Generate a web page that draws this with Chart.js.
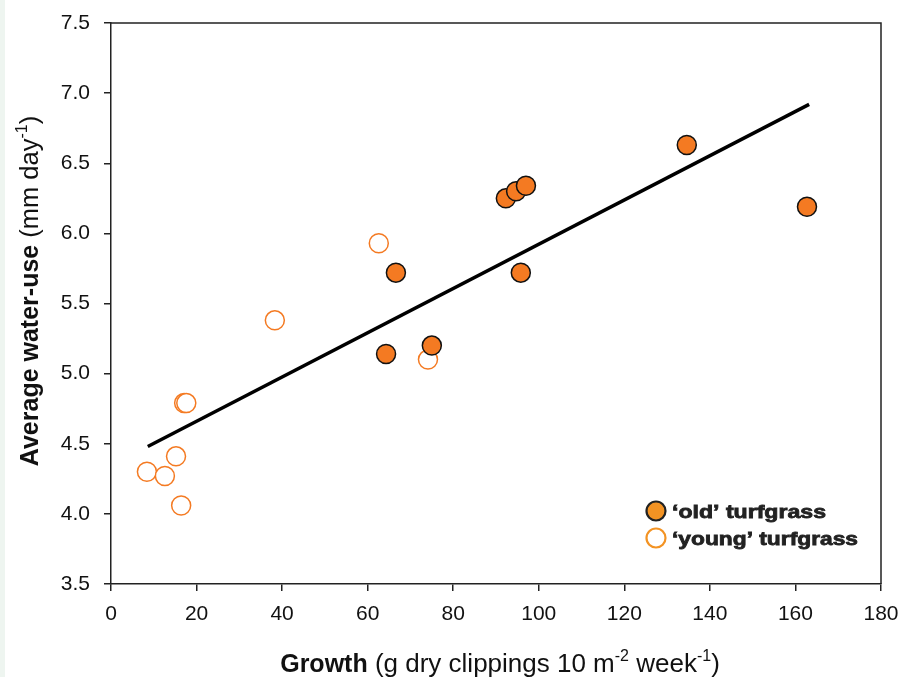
<!DOCTYPE html>
<html>
<head>
<meta charset="utf-8">
<script src="https://cdn.jsdelivr.net/npm/chart.js@4"></script>
<style>
  html, body { margin: 0; padding: 0; background: #fff; }
  #wrap { position: relative; width: 909px; height: 677px; }
  #strip { position: absolute; left: 0; top: 0; width: 5px; height: 677px; background: #eef5f0; }
</style>
</head>
<body>
<div id="wrap">
  <div id="strip"></div>
  <canvas id="waterChart" width="909" height="677"></canvas>
</div>
<script>
// Growth vs average water-use

// 'old' turfgrass plots
const oldGrowth = [64.3, 66.6, 75.0, 92.3, 94.7, 97.0, 95.8, 134.6, 162.7];
const oldWater  = [5.14, 5.72, 5.20, 6.25, 6.30, 6.34, 5.72, 6.63, 6.19];

// 'young' turfgrass plots
const youngGrowth = [8.4, 12.6, 15.2, 16.4, 17.1, 17.6, 38.3, 62.6, 74.1];
const youngWater  = [4.30, 4.27, 4.41, 4.06, 4.79, 4.79, 5.38, 5.93, 5.10];

// fitted regression line end points
const fitGrowth = [8.6, 163.2];
const fitWater  = [4.48, 6.92];

// axis ticks
const xTicks = [0, 20, 40, 60, 80, 100, 120, 140, 160, 180];
const yTicks = [3.5, 4.0, 4.5, 5.0, 5.5, 6.0, 6.5, 7.0, 7.5];

const orange = '#f47a22';
const axisColor = '#222';
const fontFamily = '"Liberation Sans", Arial, sans-serif';

const toPoints = (xs, ys) => xs.map((x, i) => ({ x: x, y: ys[i] }));

// draws the plot frame, axis titles and legend
const extras = {
  id: 'extras',
  afterDraw(chart) {
    const ctx = chart.ctx;
    const a = chart.chartArea;
    ctx.save();

    // top and right frame lines
    ctx.strokeStyle = axisColor;
    ctx.lineWidth = 1.5;
    ctx.beginPath();
    ctx.moveTo(a.left, a.top);
    ctx.lineTo(a.right, a.top);
    ctx.lineTo(a.right, a.bottom);
    ctx.stroke();

    // x axis title: bold word + normal text with superscripts
    ctx.fillStyle = '#111';
    const xParts = [
      { t: 'Growth', f: 'bold 25px ' + fontFamily, dy: 0 },
      { t: ' (g dry clippings 10 m', f: '26px ' + fontFamily, dy: 0 },
      { t: '-2', f: '16px ' + fontFamily, dy: -11 },
      { t: ' week', f: '26px ' + fontFamily, dy: 0 },
      { t: '-1', f: '16px ' + fontFamily, dy: -11 },
      { t: ')', f: '26px ' + fontFamily, dy: 0 }
    ];
    drawParts(ctx, xParts, 500, 672);

    // y axis title, rotated
    ctx.save();
    ctx.translate(38, 291);
    ctx.rotate(-Math.PI / 2);
    const yParts = [
      { t: 'Average water-use', f: 'bold 25px ' + fontFamily, dy: 0 },
      { t: ' (mm day', f: '25.5px ' + fontFamily, dy: 0 },
      { t: '-1', f: '16px ' + fontFamily, dy: -11 },
      { t: ')', f: '25.5px ' + fontFamily, dy: 0 }
    ];
    drawParts(ctx, yParts, 0, 0);
    ctx.restore();

    // legend (heavy, wide lettering)
    const legendItems = [
      { label: '\u2018old\u2019 turfgrass', fill: '#f39323', stroke: '#222', y: 511, w: 154 },
      { label: '\u2018young\u2019 turfgrass', fill: '#fff', stroke: '#f39323', y: 538, w: 186 }
    ];
    legendItems.forEach(item => {
      ctx.beginPath();
      ctx.arc(656, item.y, 9.5, 0, Math.PI * 2);
      ctx.fillStyle = item.fill;
      ctx.fill();
      ctx.lineWidth = 2.2;
      ctx.strokeStyle = item.stroke;
      ctx.stroke();

      ctx.font = 'bold 19px ' + fontFamily;
      const natural = ctx.measureText(item.label).width;
      ctx.save();
      ctx.translate(672, item.y + 7);
      ctx.scale(item.w / natural, 1);
      ctx.fillStyle = '#222';
      ctx.strokeStyle = '#222';
      ctx.lineWidth = 0.8;
      ctx.textAlign = 'left';
      ctx.textBaseline = 'alphabetic';
      ctx.fillText(item.label, 0, 0);
      ctx.strokeText(item.label, 0, 0);
      ctx.restore();
    });

    ctx.restore();
  }
};

function drawParts(ctx, parts, cx, baseY) {
  let total = 0;
  parts.forEach(p => { ctx.font = p.f; total += ctx.measureText(p.t).width; });
  let x = cx - total / 2;
  ctx.textAlign = 'left';
  ctx.textBaseline = 'alphabetic';
  parts.forEach(p => {
    ctx.font = p.f;
    ctx.fillText(p.t, x, baseY + p.dy);
    x += ctx.measureText(p.t).width;
  });
}

const ctx = document.getElementById('waterChart').getContext('2d');
new Chart(ctx, {
  type: 'scatter',
  data: {
    datasets: [
      {
        label: 'fit',
        type: 'line',
        data: toPoints(fitGrowth, fitWater),
        borderColor: '#000',
        borderWidth: 3.5,
        pointRadius: 0,
        fill: false,
        order: 3
      },
      {
        label: "'young' turfgrass",
        data: toPoints(youngGrowth, youngWater),
        backgroundColor: '#fff',
        borderColor: orange,
        borderWidth: 1.5,
        pointRadius: 9.5,
        order: 2
      },
      {
        label: "'old' turfgrass",
        data: toPoints(oldGrowth, oldWater),
        backgroundColor: orange,
        borderColor: '#111',
        borderWidth: 1.5,
        pointRadius: 9.5,
        order: 1
      }
    ]
  },
  options: {
    responsive: false,
    animation: false,
    layout: { padding: { left: 0, top: 23, right: 28, bottom: 0 } },
    plugins: {
      legend: { display: false },
      tooltip: { enabled: false }
    },
    scales: {
      x: {
        type: 'linear',
        min: 0,
        max: 180,
        afterBuildTicks: s => { s.ticks = xTicks.map(v => ({ value: v })); },
        afterFit: s => { s.height = 93; s.paddingLeft = 0; s.paddingRight = 0; },
        grid: { drawOnChartArea: false, drawTicks: true, tickLength: 7, color: axisColor, lineWidth: 1.5 },
        border: { display: true, color: axisColor, width: 1.5 },
        ticks: { color: '#111', font: { family: fontFamily, size: 21 }, padding: 11, maxRotation: 0 }
      },
      y: {
        type: 'linear',
        min: 3.5,
        max: 7.5,
        afterBuildTicks: s => { s.ticks = yTicks.map(v => ({ value: v })); },
        afterFit: s => { s.width = 111; s.paddingTop = 0; s.paddingBottom = 0; },
        grid: { drawOnChartArea: false, drawTicks: true, tickLength: 7, color: axisColor, lineWidth: 1.5 },
        border: { display: true, color: axisColor, width: 1.5 },
        ticks: {
          color: '#111',
          font: { family: fontFamily, size: 21 },
          padding: 14,
          callback: v => v.toFixed(1)
        }
      }
    }
  },
  plugins: [extras]
});
</script>
</body>
</html>
